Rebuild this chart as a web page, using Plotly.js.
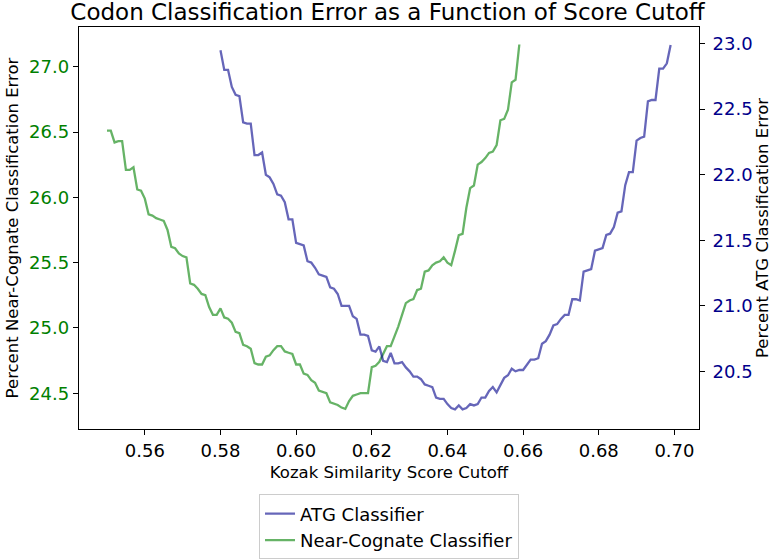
<!DOCTYPE html>
<html>
<head>
<meta charset="utf-8">
<script src="https://cdn.plot.ly/plotly-3.0.1.min.js"></script>
<style>
  body { margin: 0; background: #fff; }
  #chart { width: 775px; height: 560px; }
</style>
</head>
<body>
<div id="chart"></div>
<script>
// cutoff grid: near-cognate runs 0.550..0.659, ATG runs 0.580..0.699 (step 0.001)
const ncStart = 0.550;
const atgStart = 0.580;
const step = 0.001;

// percent near-cognate classification error (left axis)
const ncError = [
  26.51, 26.51, 26.42, 26.43, 26.43, 26.21, 26.21, 26.23, 26.06, 26.05,
  25.99, 25.87, 25.86, 25.84, 25.83, 25.82, 25.75, 25.62, 25.61, 25.57,
  25.55, 25.54, 25.34, 25.33, 25.30, 25.26, 25.25, 25.16, 25.10, 25.10,
  25.15, 25.08, 25.07, 25.04, 24.97, 24.96, 24.87, 24.86, 24.84, 24.73,
  24.72, 24.72, 24.78, 24.79, 24.83, 24.86, 24.86, 24.82, 24.81, 24.80,
  24.72, 24.72, 24.65, 24.64, 24.60, 24.58, 24.52, 24.51, 24.50, 24.43,
  24.42, 24.41, 24.39, 24.38, 24.44, 24.48, 24.49, 24.50, 24.50, 24.50,
  24.70, 24.71, 24.74, 24.80, 24.86, 24.86, 24.93, 25.01, 25.10, 25.19,
  25.21, 25.22, 25.29, 25.30, 25.43, 25.44, 25.48, 25.50, 25.51, 25.54,
  25.50, 25.48, 25.59, 25.71, 25.72, 25.92, 26.07, 26.09, 26.25, 26.27,
  26.30, 26.34, 26.35, 26.40, 26.59, 26.60, 26.67, 26.88, 26.90, 27.17
];

// percent ATG classification error (right axis)
const atgError = [
  22.95, 22.80, 22.80, 22.67, 22.61, 22.60, 22.40, 22.39, 22.39, 22.15,
  22.15, 22.17, 22.00, 21.98, 21.93, 21.85, 21.84, 21.79, 21.66, 21.66,
  21.48, 21.47, 21.46, 21.34, 21.33, 21.29, 21.24, 21.23, 21.22, 21.14,
  21.13, 21.09, 21.00, 21.00, 21.00, 20.92, 20.90, 20.78, 20.78, 20.77,
  20.66, 20.65, 20.69, 20.58, 20.57, 20.64, 20.56, 20.56, 20.57, 20.53,
  20.50, 20.46, 20.46, 20.44, 20.40, 20.39, 20.38, 20.30, 20.29, 20.29,
  20.25, 20.22, 20.21, 20.24, 20.21, 20.22, 20.25, 20.24, 20.25, 20.30,
  20.30, 20.35, 20.38, 20.34, 20.40, 20.45, 20.47, 20.52, 20.50, 20.51,
  20.51, 20.55, 20.59, 20.59, 20.60, 20.71, 20.73, 20.78, 20.85, 20.86,
  20.90, 20.93, 20.93, 21.05, 21.05, 21.04, 21.26, 21.27, 21.28, 21.42,
  21.43, 21.44, 21.54, 21.55, 21.60, 21.71, 21.72, 21.92, 22.02, 22.02,
  22.26, 22.28, 22.29, 22.56, 22.57, 22.57, 22.81, 22.81, 22.85, 22.99
];

const ncCutoff = ncError.map((_, i) => +(ncStart + i * step).toFixed(3));
const atgCutoff = atgError.map((_, i) => +(atgStart + i * step).toFixed(3));

const FONT = 'DejaVu Sans, sans-serif';

const traces = [
  {
    x: atgCutoff, y: atgError, yaxis: 'y2',
    name: 'ATG Classifier', type: 'scatter', mode: 'lines',
    line: {color: 'rgba(0,0,139,0.6)', width: 2.3}
  },
  {
    x: ncCutoff, y: ncError, yaxis: 'y',
    name: 'Near-Cognate Classifier', type: 'scatter', mode: 'lines',
    line: {color: 'rgba(0,128,0,0.6)', width: 2.3}
  }
];

const layout = {
  width: 775, height: 560,
  margin: {l: 79, r: 76, t: 27, b: 131},
  paper_bgcolor: '#fff', plot_bgcolor: '#fff',
  font: {family: FONT, size: 16, color: '#000'},
  showlegend: true,
  title: {
    text: 'Codon Classification Error as a Function of Score Cutoff',
    font: {family: FONT, size: 23, color: '#000'},
    x: 0.5, xanchor: 'center', y: 0.979, yanchor: 'middle'
  },
  xaxis: {
    range: [0.5426, 0.7065], tickvals: [0.56, 0.58, 0.60, 0.62, 0.64, 0.66, 0.68, 0.70],
    tickformat: '.2f', ticks: 'outside', ticklen: 5, tickcolor: '#000',
    tickfont: {size: 18}, ticklabelstandoff: 0,
    showline: true, linecolor: '#000', linewidth: 1.2, mirror: true,
    showgrid: false, zeroline: false, automargin: false,
    title: {text: 'Kozak Similarity Score Cutoff', font: {size: 16.5}, standoff: 6}
  },
  yaxis: {
    range: [24.226, 27.304], tickvals: [24.5, 25.0, 25.5, 26.0, 26.5, 27.0],
    tickformat: '.1f', ticks: 'outside', ticklen: 5, tickcolor: '#000',
    tickfont: {size: 18, color: 'green'},
    showline: true, linecolor: '#000', linewidth: 1.2, mirror: true,
    showgrid: false, zeroline: false, automargin: false,
    title: {text: 'Percent Near-Cognate Classification Error', font: {size: 16.5}, standoff: 6}
  },
  yaxis2: {
    overlaying: 'y', side: 'right',
    range: [20.06, 23.127], tickvals: [20.5, 21.0, 21.5, 22.0, 22.5, 23.0],
    tickformat: '.1f', ticks: 'outside', ticklen: 5, tickcolor: '#000',
    tickfont: {size: 18, color: 'darkblue'}, ticklabelstandoff: 4,
    showline: false, showgrid: false, zeroline: false, automargin: false,
    title: {text: 'Percent ATG Classification Error', font: {size: 16.5}, standoff: 2}
  },
  legend: {
    x: 0.5, xanchor: 'center', yref: 'container', y: 0.117, yanchor: 'top',
    bordercolor: '#cccccc', borderwidth: 1, bgcolor: '#fff',
    font: {size: 18}, tracegroupgap: 0
  }
};

Plotly.newPlot('chart', traces, layout, {displayModeBar: false, staticPlot: true});
</script>
</body>
</html>
